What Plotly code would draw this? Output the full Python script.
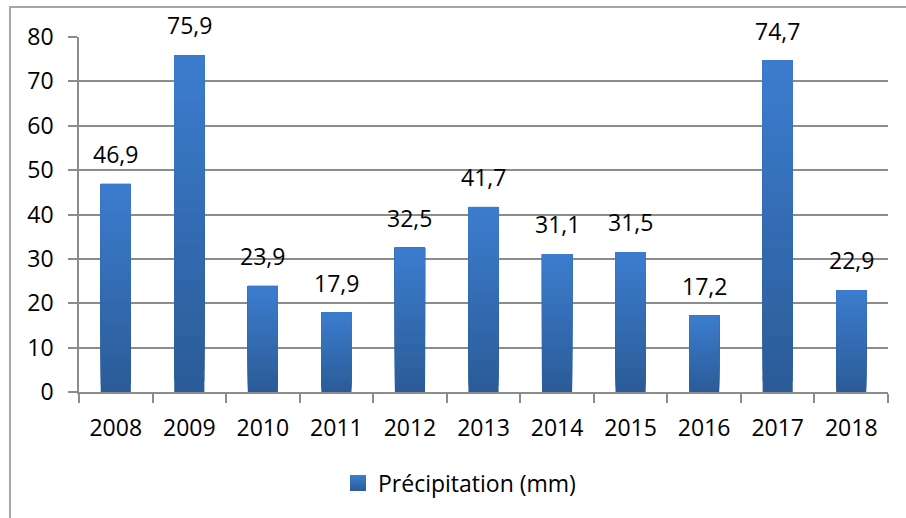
import plotly.graph_objects as go

# Annual precipitation totals
years = ["2008", "2009", "2010", "2011", "2012", "2013", "2014", "2015", "2016", "2017", "2018"]
precip = [46.9, 75.9, 23.9, 17.9, 32.5, 41.7, 31.1, 31.5, 17.2, 74.7, 22.9]
y_ticks = [0, 10, 20, 30, 40, 50, 60, 70, 80]
series_name = "Précipitation (mm)"

FONT = "Open Sans"
TOP_RGB = (61, 125, 208)
BOTTOM_RGB = (43, 92, 152)
N_STEPS = 30


def mix(t):
    r, g, b = (round(BOTTOM_RGB[i] + (TOP_RGB[i] - BOTTOM_RGB[i]) * t) for i in range(3))
    return f"rgb({r},{g},{b})"


fig = go.Figure()

# Vertical gradient per bar: overlapping layers, each from a fraction of the value up to the top
for k in range(N_STEPS):
    frac = k / N_STEPS
    fig.add_trace(go.Bar(
        x=years,
        y=[v * (1 - frac) for v in precip],
        base=[v * frac for v in precip],
        width=0.41,
        marker=dict(color=mix(frac), line=dict(width=0)),
        showlegend=False,
        hoverinfo="skip",
    ))

# Legend entry (no visible point on the plot)
fig.add_trace(go.Scatter(
    x=[years[0]], y=[-100], mode="markers", name=series_name,
    marker=dict(symbol="square", size=16, color=mix(1.0),
                gradient=dict(type="vertical", color=mix(0.0))),
    showlegend=True, hoverinfo="skip", cliponaxis=True,
))

# Value labels above the bars (category index positions)
for i, v in enumerate(precip):
    fig.add_annotation(
        x=i, y=v, xref="x", yref="y", text=f"{v:.1f}".replace(".", ","), showarrow=False,
        yanchor="bottom", yshift=12, font=dict(family=FONT, size=23, color="#000"),
    )

# Outer chart frame
W, H = 906, 518
L, R, T, B = 79, 18, 37, 126
pw, ph = W - L - R, H - T - B
fig.add_shape(
    type="rect", xref="paper", yref="paper",
    x0=(10 - L) / pw, x1=(W + 20 - L) / pw,
    y0=-(B + 20) / ph, y1=(H - B - 7) / ph,
    line=dict(color="#a6a6a6", width=2), fillcolor="rgba(0,0,0,0)", layer="below",
)

fig.update_layout(
    width=W, height=H,
    margin=dict(l=L, r=R, t=T, b=B),
    paper_bgcolor="white", plot_bgcolor="white",
    barmode="overlay",
    font=dict(family=FONT, size=23, color="#000"),
    xaxis=dict(
        type="category", categoryorder="array", categoryarray=years,
        range=[-0.5, len(years) - 0.5], autorange=False,
        showgrid=False, showline=True, linecolor="#8c8c8c", linewidth=1.5,
        ticks="outside", tickson="boundaries", ticklen=9, tickcolor="#8c8c8c", tickwidth=1.5,
        ticklabelstandoff=15, tickfont=dict(family=FONT, size=23), tickangle=0,
    ),
    yaxis=dict(
        range=[0, 80], autorange=False, tickvals=y_ticks, showgrid=True,
        gridcolor="#8c8c8c", gridwidth=1.5,
        showline=True, linecolor="#8c8c8c", linewidth=1.5, zeroline=False,
        ticks="outside", ticklen=9, tickcolor="#8c8c8c", tickwidth=1.5,
        ticklabelstandoff=10, tickfont=dict(family=FONT, size=23),
    ),
    legend=dict(
        orientation="h", x=(356 - L - 18) / pw, xanchor="left",
        y=(H - B - 483) / ph, yanchor="middle",
        font=dict(family=FONT, size=23), itemsizing="trace",
    ),
)

fig.write_html("out.html")
